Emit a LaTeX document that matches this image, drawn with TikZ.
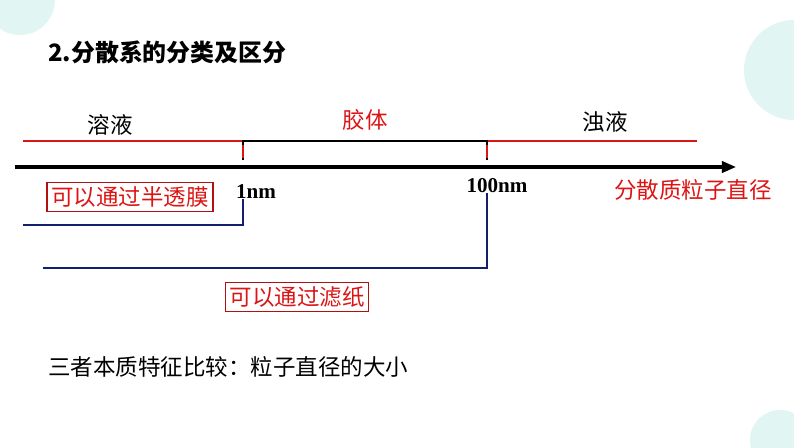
\documentclass[tikz,border=0pt]{standalone}
\usepackage{fontspec}
\setmainfont{Liberation Serif}
\newfontfamily\cjk{Noto Sans CJK SC}
\usetikzlibrary{arrows.meta, positioning}
\definecolor{zred}{RGB}{220,20,20}
\definecolor{znavy}{RGB}{20,30,110}
\definecolor{zbg}{RGB}{225,245,242}
\tikzset{
  redline/.style={zred, line width=1.6pt},
  navyline/.style={znavy, line width=1.4pt},
  label/.style={font=\cjk\fontsize{16}{18}\selectfont, inner sep=0pt},
  tag/.style={draw=zred!80!black, thick, text=zred, font=\cjk\fontsize{16}{18}\selectfont, inner sep=3pt, fill=white},
  nm/.style={font=\bfseries\fontsize{15}{17}\selectfont, inner sep=0pt}
}
\begin{document}
\begin{tikzpicture}[x=0.025cm, y=-0.025cm]
  \useasboundingbox (0,0) rectangle (794,447);
  \fill[zbg] (20,0) circle (35);
  \fill[zbg] (794,70) circle (50);
  \fill[zbg] (780,440) circle (30);
  \node[font=\cjk\bfseries\fontsize{17}{19}\selectfont, anchor=west, inner sep=0pt] (title) at (48,52) {2.分散系的分类及区分};
  % axis
  \coordinate (a0) at (15,167);
  \coordinate (a1) at (736,167);
  \draw[line width=2.2pt, -{Triangle[length=10pt,width=8pt]}] (a0) -- (a1);
  % ranges
  \coordinate (p1) at (243,141);
  \coordinate (p2) at (487,141);
  \draw[redline] (23,141) -- (p1);
  \draw[redline] (p2) -- (697,141);
  \draw[thick] (243,160) -- (p1) -- (p2) -- (487,160);
  \draw[zred, thick] (243,145) -- (243,158) (487,145) -- (487,158);
  \node[label] (sol) at (110,125) {溶液};
  \node[label, text=zred] (col) at (365,120) {胶体};
  \node[label] (sus) at (605,122) {浊液};
  \node[nm] (n1) at (256,192) {1nm};
  \node[nm] (n100) at (497,186) {100nm};
  \node[label, text=zred] (axl) at (693,190) {分散质粒子直径};
  % membranes
  \node[tag] (mem) at (130,197) {可以通过半透膜};
  \draw[navyline] (23,225) -- (243,225) -- (n1.south -| 243,0);
  \node[tag] (pap) at (297,297) {可以通过滤纸};
  \draw[navyline] (43,268) -- (487,268) -- (n100.south -| 487,0);
  \node[label, anchor=west] (sum) at (48,367) {三者本质特征比较：粒子直径的大小};
\end{tikzpicture}
\end{document}
